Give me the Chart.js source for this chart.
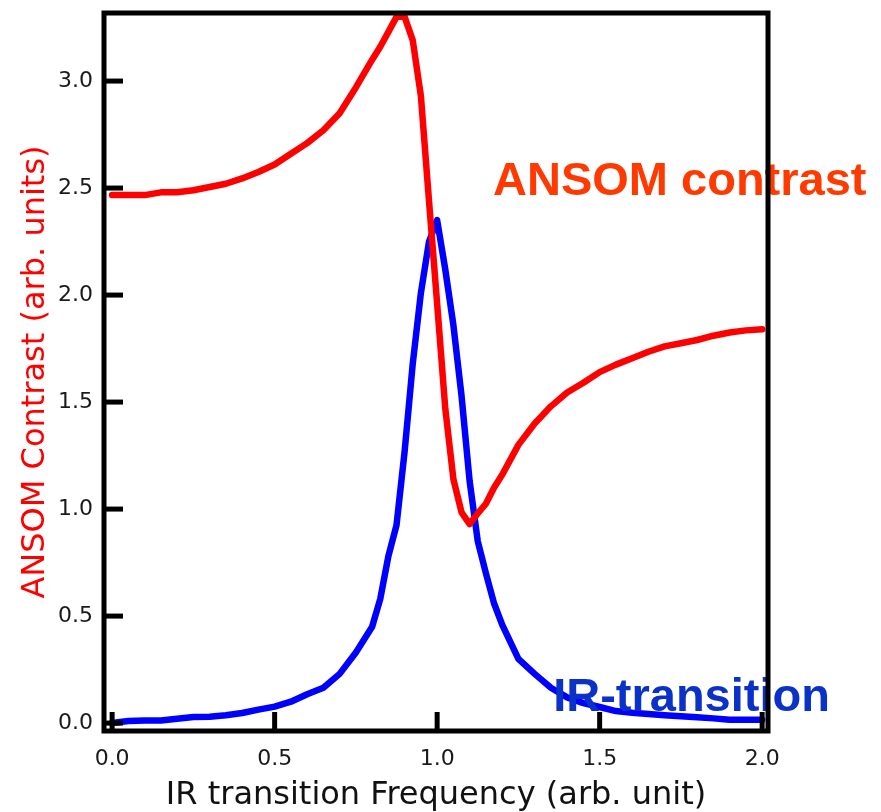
<!DOCTYPE html>
<html>
<head>
<meta charset="utf-8">
<script src="https://cdn.jsdelivr.net/npm/chart.js@4/dist/chart.umd.min.js"></script>
<style>
  html, body { margin: 0; padding: 0; background: #ffffff; }
  #wrap { width: 881px; height: 812px; }
</style>
</head>
<body>
<div id="wrap"><canvas id="c" width="881" height="812"></canvas></div>
<script>
// ---- data ----
const frequency = [0, 0.05, 0.1, 0.15, 0.2, 0.25, 0.3, 0.35, 0.4, 0.45, 0.5, 0.55, 0.6, 0.65, 0.7, 0.75, 0.8, 0.825, 0.85, 0.875, 0.9, 0.925, 0.95, 0.975, 1.0, 1.025, 1.05, 1.075, 1.1, 1.125, 1.15, 1.175, 1.2, 1.25, 1.3, 1.35, 1.4, 1.45, 1.5, 1.55, 1.6, 1.65, 1.7, 1.75, 1.8, 1.85, 1.9, 1.95, 2.0];
const ansomContrast = [2.467, 2.467, 2.467, 2.48, 2.48, 2.49, 2.505, 2.52, 2.545, 2.575, 2.61, 2.66, 2.71, 2.77, 2.85, 2.97, 3.10, 3.16, 3.23, 3.30, 3.30, 3.19, 2.93, 2.44, 1.96, 1.47, 1.14, 0.985, 0.93, 0.98, 1.025, 1.10, 1.16, 1.30, 1.40, 1.48, 1.545, 1.59, 1.64, 1.675, 1.705, 1.735, 1.76, 1.775, 1.79, 1.81, 1.825, 1.835, 1.84];
const irTransition = [0.0, 0.01, 0.012, 0.012, 0.02, 0.028, 0.03, 0.037, 0.047, 0.063, 0.077, 0.10, 0.135, 0.165, 0.23, 0.33, 0.45, 0.58, 0.78, 0.925, 1.27, 1.68, 2.01, 2.25, 2.35, 2.12, 1.86, 1.53, 1.13, 0.85, 0.70, 0.56, 0.46, 0.30, 0.23, 0.165, 0.12, 0.093, 0.075, 0.056, 0.048, 0.042, 0.037, 0.032, 0.027, 0.022, 0.016, 0.015, 0.015];
const xTicks = [0, 0.5, 1.0, 1.5, 2.0];
const yTicks = [0, 0.5, 1.0, 1.5, 2.0, 2.5, 3.0];
const xTitle = 'IR transition Frequency (arb. unit)';
const yTitle = 'ANSOM Contrast (arb. units)';
const labelAnsom = 'ANSOM contrast';
const labelIR = 'IR-transition';

const toPoints = (xs, ys) => xs.map((x, i) => ({ x: x, y: ys[i] }));

const annotationPlugin = {
  id: 'annotations',
  afterDatasetsDraw(chart) {
    const ctx = chart.ctx;
    const xs = chart.scales.x, ys = chart.scales.y;
    ctx.save();
    ctx.font = 'bold 47px "Liberation Sans", Arial, sans-serif';
    ctx.textAlign = 'left';
    ctx.textBaseline = 'alphabetic';
    ctx.fillStyle = '#ff3a00';
    ctx.fillText(labelAnsom, xs.getPixelForValue(1.172), ys.getPixelForValue(2.467));
    ctx.fillStyle = '#0a32c8';
    ctx.fillText(labelIR, xs.getPixelForValue(1.357), ys.getPixelForValue(0.056));
    ctx.restore();
  }
};

const framePlugin = {
  id: 'frame',
  afterDraw(chart) {
    const ctx = chart.ctx;
    const a = chart.chartArea;
    const xs = chart.scales.x, ys = chart.scales.y;
    ctx.save();
    ctx.strokeStyle = '#000000';
    ctx.lineWidth = 5;
    ctx.lineCap = 'butt';
    ctx.strokeRect(a.left, a.top, a.right - a.left, a.bottom - a.top);
    const tl = 19;
    xs.ticks.forEach(t => {
      const px = xs.getPixelForValue(t.value);
      ctx.beginPath();
      ctx.moveTo(px, a.bottom);
      ctx.lineTo(px, a.bottom - tl);
      ctx.stroke();
    });
    ys.ticks.forEach(t => {
      const py = ys.getPixelForValue(t.value);
      ctx.beginPath();
      ctx.moveTo(a.left, py);
      ctx.lineTo(a.left + tl, py);
      ctx.stroke();
    });
    ctx.restore();
  }
};

new Chart(document.getElementById('c'), {
  type: 'line',
  data: {
    datasets: [
      {
        label: labelAnsom,
        data: toPoints(frequency, ansomContrast),
        borderColor: '#ff0000',
        borderWidth: 6.5,
        pointRadius: 0,
        tension: 0,
        fill: false,
        borderCapStyle: 'round',
        borderJoinStyle: 'round'
      },
      {
        label: labelIR,
        data: toPoints(frequency, irTransition),
        borderColor: '#0000ff',
        borderWidth: 6.5,
        pointRadius: 0,
        tension: 0,
        fill: false,
        borderCapStyle: 'round',
        borderJoinStyle: 'round'
      }
    ]
  },
  options: {
    responsive: false,
    animation: false,
    events: [],
    layout: { padding: { left: 0, top: 13, right: 113, bottom: 0 } },
    plugins: { legend: { display: false }, tooltip: { enabled: false } },
    scales: {
      x: {
        type: 'linear',
        min: -0.025,
        max: 2.018,
        afterFit: s => { s.height = 81; s.paddingLeft = 0; s.paddingRight = 0; },
        afterBuildTicks: s => { s.ticks = xTicks.map(v => ({ value: v })); },
        grid: { display: false, drawTicks: false },
        border: { display: false },
        ticks: {
          padding: 15,
          color: '#1a1a1a',
          font: { family: '"DejaVu Sans", sans-serif', size: 22 },
          callback: v => Number(v).toFixed(1),
          maxRotation: 0
        },
        title: {
          display: true,
          text: xTitle,
          color: '#111111',
          font: { family: '"DejaVu Sans", sans-serif', size: 32, lineHeight: 1.05 },
          padding: { top: 0, bottom: 0 }
        }
      },
      y: {
        type: 'linear',
        min: -0.037,
        max: 3.318,
        afterFit: s => { s.width = 104; s.paddingTop = 0; s.paddingBottom = 0; },
        afterBuildTicks: s => { s.ticks = yTicks.map(v => ({ value: v })); },
        grid: { display: false, drawTicks: false },
        border: { display: false },
        ticks: {
          padding: 11,
          color: '#1a1a1a',
          font: { family: '"DejaVu Sans", sans-serif', size: 22 },
          callback: v => Number(v).toFixed(1)
        },
        title: {
          display: true,
          text: yTitle,
          color: '#ff0000',
          font: { family: '"DejaVu Sans", sans-serif', size: 32, lineHeight: 1.2 },
          padding: { top: 16, bottom: 0 }
        }
      }
    }
  },
  plugins: [annotationPlugin, framePlugin]
});
</script>
</body>
</html>
